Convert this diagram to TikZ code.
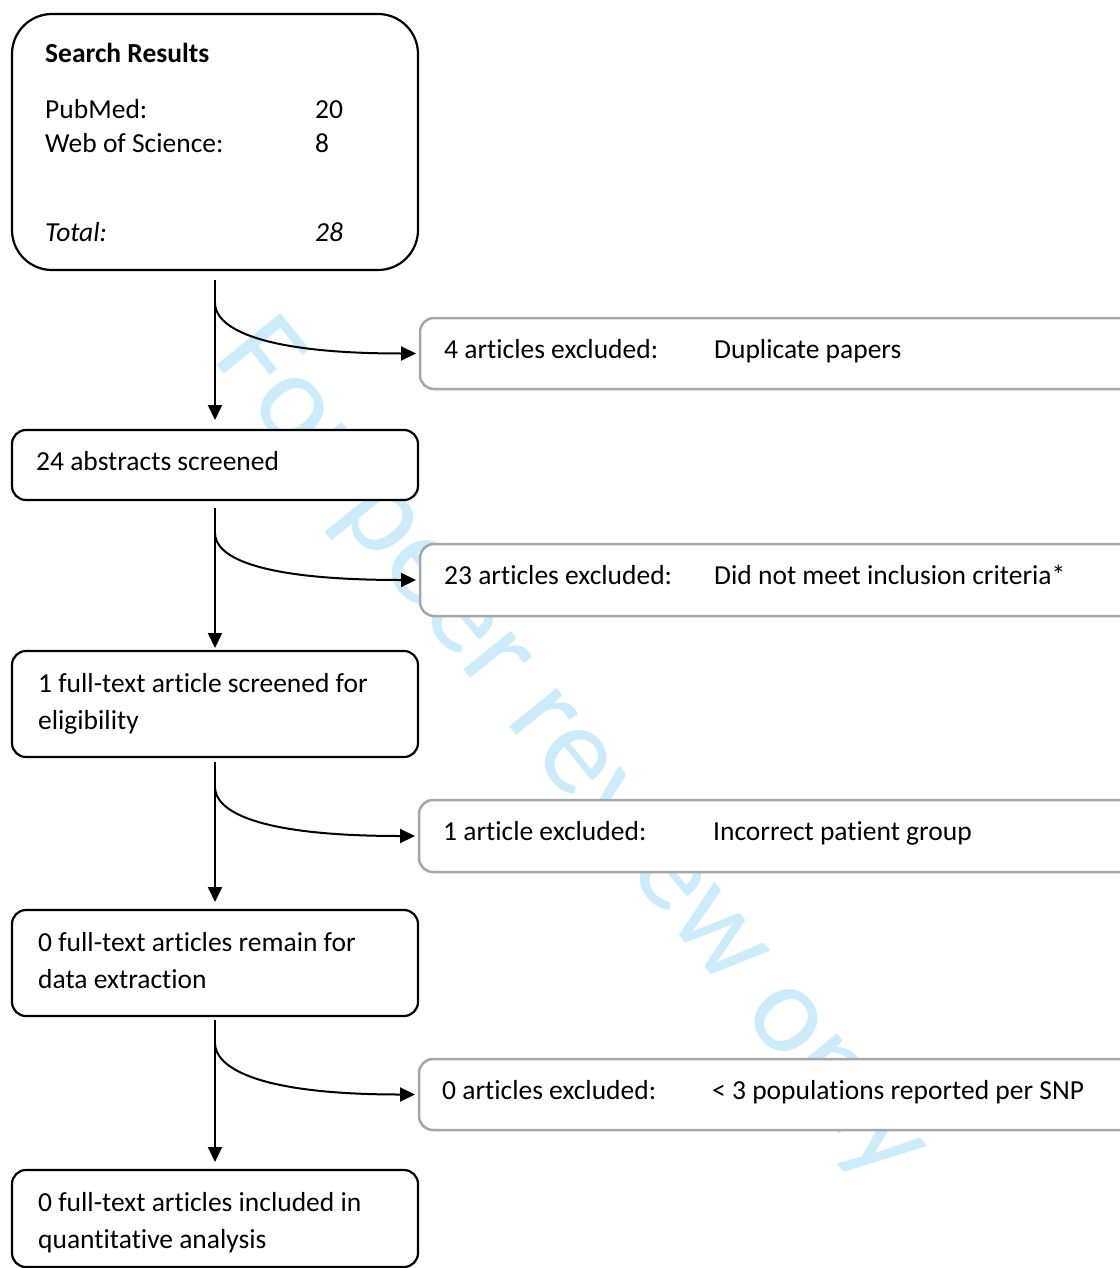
\documentclass[tikz,border=0pt]{standalone}
\usepackage{fontspec}
\setmainfont{Carlito}[Ligatures=NoCommon]
\usetikzlibrary{arrows.meta}
\definecolor{wm}{RGB}{204,236,252}
\definecolor{graybd}{RGB}{166,166,166}
\begin{document}
\begin{tikzpicture}[x=1pt,y=-1pt,
  mainbox/.style={draw=black,line width=2.2pt,fill=white,rounded corners=14pt,inner sep=0pt,outer sep=0pt},
  exbox/.style={draw=graybd,line width=2.5pt,fill=white,rounded corners=14pt,inner sep=0pt,outer sep=0pt,minimum width=720pt},
  txt/.style={anchor=base west,inner sep=0pt,font=\fontsize{27.5}{33}\selectfont},
  txtb/.style={anchor=base west,inner sep=0pt,font=\fontsize{27.5}{33}\selectfont\bfseries},
  txti/.style={anchor=base west,inner sep=0pt,font=\fontsize{27.5}{33}\selectfont\itshape},
  arr/.style={line width=2pt,-{Triangle[length=15pt,width=14pt]}}]
\useasboundingbox (0,0) rectangle (1119,1268);
% watermark
\node[rotate=-51,anchor=base west,inner sep=0pt,text=wm,font=\fontsize{128}{128}\selectfont] (wmark) at (211,358) {For peer review only};
% main boxes
\node[mainbox,rounded corners=40pt,minimum width=406pt,minimum height=256pt] (sr) at (215,142) {};
\node[mainbox,minimum width=406pt,minimum height=70pt] (ab) at (215,465) {};
\node[mainbox,minimum width=406pt,minimum height=106pt] (ft) at (215,704) {};
\node[mainbox,minimum width=406pt,minimum height=106pt] (de) at (215,963) {};
\node[mainbox,minimum width=406pt,minimum height=97pt] (qa) at (215,1218.5) {};
% exclusion boxes
\node[exbox,minimum height=71pt] (ex1) at (780,353.5) {};
\node[exbox,minimum height=72pt] (ex2) at (780,580) {};
\node[exbox,minimum height=72pt] (ex3) at (779,836) {};
\node[exbox,minimum height=71pt] (ex4) at (779,1094.5) {};
% texts
\node[txtb] (t1) at (45,63) {Search Results};
\node[txt] (t2) at (45,119) {PubMed:};
\node[txt] (t3) at (315,119) {20};
\node[txt] (t4) at (45,153) {Web of Science:};
\node[txt] (t5) at (315,153) {8};
\node[txti] (t6) at (45,241) {Total:};
\node[txti] (t7) at (315,241) {28};
\node[txt] (t8) at (36,470) {24 abstracts screened};
\node[txt] (t9) at (38,692) {1 full-text article screened for};
\node[txt] (t10) at (38,729) {eligibility};
\node[txt] (t11) at (38,951) {0 full-text articles remain for};
\node[txt] (t12) at (38,988) {data extraction};
\node[txt] (t13) at (38,1211) {0 full-text articles included in};
\node[txt] (t14) at (38,1248) {quantitative analysis};
\node[txt] (e1a) at (444,358) {4 articles excluded:};
\node[txt] (e1b) at (714,358) {Duplicate papers};
\node[txt] (e2a) at (444,584) {23 articles excluded:};
\node[txt] (e2b) at (714,584) {Did not meet inclusion criteria*};
\node[txt] (e3a) at (443,840) {1 article excluded:};
\node[txt] (e3b) at (713,840) {Incorrect patient group};
\node[txt] (e4a) at (442,1099) {0 articles excluded:};
\node[txt] (e4b) at (712,1099) {< 3 populations reported per SNP};
% connectors
\coordinate (b1) at (215,303);
\coordinate (b2) at (215,533);
\coordinate (b3) at (215,787);
\coordinate (b4) at (215,1043);
\draw[arr] ([yshift=-10pt]sr.south) -- ([yshift=10pt]ab.north);
\draw[arr] (b1) .. controls +(0,22) and +(-165,0) .. ([xshift=-4pt]ex1.west);
\draw[arr] ([yshift=-8pt]ab.south) -- ([yshift=3pt]ft.north);
\draw[arr] (b2) .. controls +(0,22) and +(-165,0) .. ([xshift=-4pt]ex2.west);
\draw[arr] ([yshift=-5pt]ft.south) -- ([yshift=8pt]de.north);
\draw[arr] (b3) .. controls +(0,22) and +(-165,0) .. ([xshift=-4pt]ex3.west);
\draw[arr] ([yshift=-4pt]de.south) -- ([yshift=8pt]qa.north);
\draw[arr] (b4) .. controls +(0,22) and +(-165,0) .. ([xshift=-4pt]ex4.west);
\end{tikzpicture}
\end{document}
